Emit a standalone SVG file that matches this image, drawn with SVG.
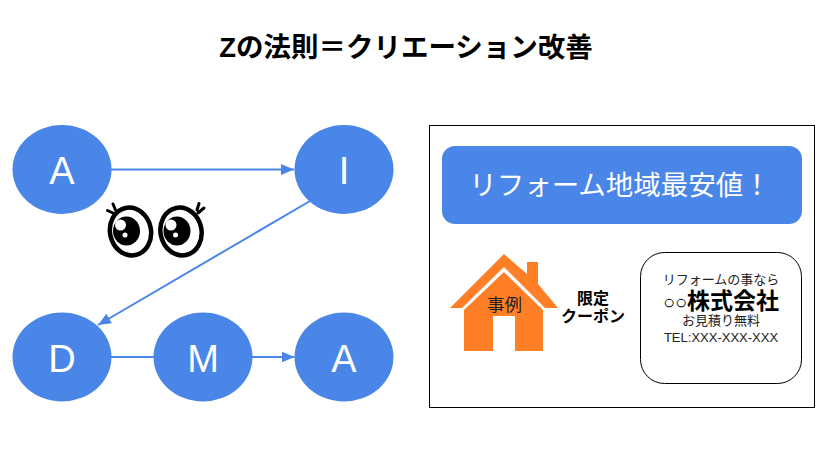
<svg xmlns="http://www.w3.org/2000/svg" width="836" height="452" viewBox="0 0 836 452">
  <style>
    text { font-family: "Liberation Sans", "Noto Sans CJK JP", sans-serif; text-anchor: middle; }
    .node { fill: #4a86e8; }
    .letter { fill: #fff; font-size: 38px; }
    .link { fill: none; stroke: #4a86e8; stroke-width: 2; }
    .eye { fill: #fff; stroke: #000; stroke-width: 4.5; }
    .lash { fill: none; stroke: #000; stroke-width: 3; stroke-linecap: round; }
    .small { font-size: 13px; fill: #222; }
    .bold { font-weight: bold; fill: #000; }
  </style>
  <defs>
    <marker id="arrow" markerUnits="userSpaceOnUse" markerWidth="14" markerHeight="12" refX="13" refY="5.5" orient="auto">
      <path d="M0 0 L13 5.5 L0 11 Z" fill="#4a86e8"/>
    </marker>
    <g id="eye-shape">
      <ellipse class="eye" cx="0" cy="0" rx="20.500" ry="24" transform="rotate(-12)"/>
      <ellipse cx="-4" cy="-0.500" rx="13.500" ry="14.500" fill="#000"/>
      <circle cx="-10" cy="-6.500" r="5.500" fill="#fff"/>
      <circle cx="-5.500" cy="3.500" r="2.500" fill="#fff"/>
    </g>
  </defs>

  <rect width="836" height="452" fill="#fff"/>

  <text id="title" x="406" y="57" class="bold" font-size="27.500">Zの法則＝クリエーション改善</text>

  <g id="connectors">
    <line class="link" x1="111" y1="169.500" x2="294" y2="169.500" marker-end="url(#arrow)"/>
    <line class="link" x1="310" y1="201" x2="98" y2="325" marker-end="url(#arrow)"/>
    <line class="link" x1="111" y1="357" x2="154" y2="357"/>
    <line class="link" x1="252" y1="357" x2="294.500" y2="357" marker-end="url(#arrow)"/>
  </g>

  <g id="node-a-top"><ellipse class="node" cx="62" cy="169.500" rx="49.500" ry="44.500"/><text class="letter" x="62" y="184">A</text></g>
  <g id="node-i"><ellipse class="node" cx="344" cy="169.500" rx="49.500" ry="44.500"/><text class="letter" x="344" y="184">I</text></g>
  <g id="node-d"><ellipse class="node" cx="62" cy="357" rx="49.500" ry="44.500"/><text class="letter" x="62" y="372">D</text></g>
  <g id="node-m"><ellipse class="node" cx="203" cy="357" rx="49.500" ry="44.500"/><text class="letter" x="203" y="372">M</text></g>
  <g id="node-a-bottom"><ellipse class="node" cx="344" cy="357" rx="49.500" ry="44.500"/><text class="letter" x="344" y="372">A</text></g>

  <g id="eyes">
    <use href="#eye-shape" x="130.500" y="231.500"/>
    <use href="#eye-shape" x="181" y="231.500"/>
    <path class="lash" d="M113 204 L115.500 210 M107.500 210.500 L113 213 M199 203.500 L197 210 M204 208 L198 213"/>
  </g>

  <g id="ad-frame"><rect x="429.500" y="125.500" width="385" height="282" fill="#fff" stroke="#000" stroke-width="1"/></g>

  <g id="headline">
    <rect x="442" y="146" width="360" height="78" rx="13" fill="#4a86e8"/>
    <text x="620" y="195" font-size="27.500" fill="#fff">リフォーム地域最安値！</text>
  </g>

  <g id="house">
    <path d="M504 254 L527 274 L527 262 L538 262 L538 284 L558 308 L545 308 L504 267 L462 308 L450 308 Z" fill="#ff7f27"/>
    <path d="M504 272 L543 310 L543 351 L515 351 L515 316 L493 316 L493 351 L464 351 L464 310 Z" fill="#ff7f27"/>
    <text x="504.500" y="311" style="font-size:17.500px" fill="#222">事例</text>
  </g>

  <g id="coupon">
    <text class="bold" x="593" y="304" font-size="16">限定</text>
    <text class="bold" x="593" y="322" font-size="16">クーポン</text>
  </g>

  <g id="company">
    <rect x="640.500" y="252.500" width="161" height="131" rx="24" fill="#fff" stroke="#000" stroke-width="1"/>
    <text class="small" x="721" y="284">リフォームの事なら</text>
    <text x="721" y="309" font-size="23" fill="#000"><tspan font-size="20">○○</tspan><tspan font-weight="bold">株式会社</tspan></text>
    <text class="small" x="721" y="325">お見積り無料</text>
    <text class="small" x="721" y="342">TEL:XXX-XXX-XXX</text>
  </g>
</svg>
